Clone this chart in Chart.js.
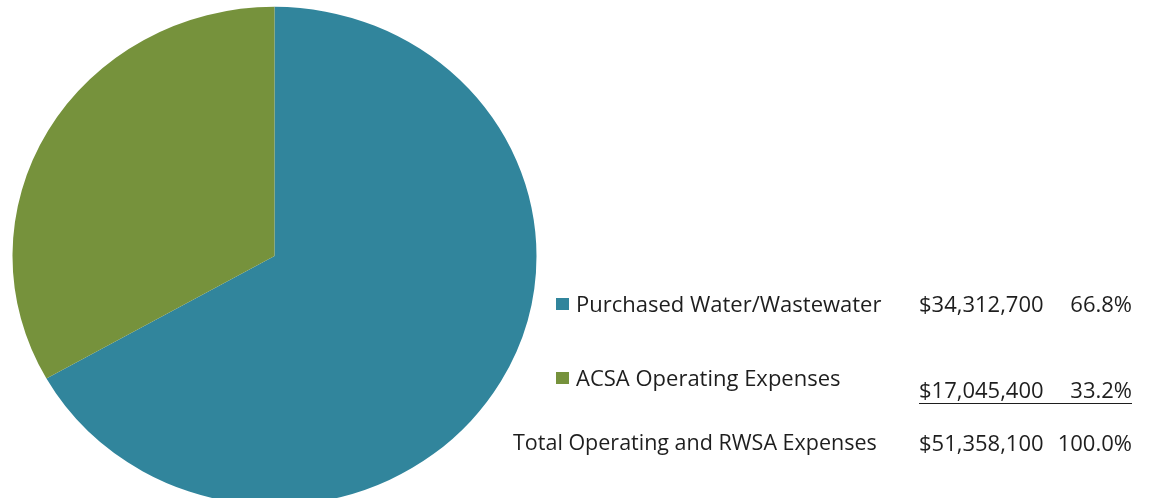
<!DOCTYPE html>
<html>
<head>
<meta charset="utf-8">
<script src="https://cdn.jsdelivr.net/npm/chart.js@4.4.1/dist/chart.umd.min.js"></script>
<style>
  body { margin: 0; background: #fff; }
  #wrap { position: relative; width: 1149px; height: 498px; overflow: hidden; }
  #pieChart { position: absolute; left: 0; top: 0; }
  .row { position: absolute; font-family: 'Open Sans', sans-serif; font-size: 22px; line-height: 22px; color: #1e1e1e; white-space: pre; }
  .box { position: absolute; width: 13px; height: 12px; }
  .amounts { position: absolute; left: 919px; width: 213px; display: flex; justify-content: space-between; }
  .amounts.ruled { border-bottom: 1.6px solid #1e1e1e; padding-bottom: 3px; }
</style>
</head>
<body>
<div id="wrap">
  <canvas id="pieChart" width="1149" height="498"></canvas>
  <div id="legend"></div>
</div>
<script>
const categories = ['Purchased Water/Wastewater', 'ACSA Operating Expenses'];
const amounts = [34312700, 17045400];
const totalLabel = 'Total Operating and RWSA Expenses';
const colors = ['#31859c', '#76923c'];

const total = amounts.reduce((a, b) => a + b, 0);
const money = v => '$' + v.toLocaleString('en-US');
const pct = v => (v / total * 100).toFixed(1) + '%';

// flatten the pie a little vertically
const squash = {
  id: 'squash',
  beforeDatasetsDraw(chart) {
    const arc = chart.getDatasetMeta(0).data[0];
    const ctx = chart.ctx;
    ctx.save();
    ctx.translate(arc.x, arc.y);
    ctx.scale(1, 0.951);
    ctx.translate(-arc.x, -arc.y);
  },
  afterDatasetsDraw(chart) {
    chart.ctx.restore();
  }
};

const ctx = document.getElementById('pieChart').getContext('2d');
const chart = new Chart(ctx, {
  type: 'pie',
  data: {
    labels: categories,
    datasets: [{
      data: amounts,
      backgroundColor: colors,
      borderWidth: 0,
      radius: 262
    }]
  },
  options: {
    responsive: false,
    animation: false,
    events: [],
    layout: { padding: { left: 12, right: 612, top: 14, bottom: 0 } },
    plugins: {
      legend: { display: false },
      tooltip: { enabled: false }
    }
  },
  plugins: [squash]
});

// legend table on the right: label, amount, share
const legend = document.getElementById('legend');
const labelTops = [291.5, 365.5];
const amountTops = [291.5, 377.5];

function addRow(text, left, top) {
  const d = document.createElement('div');
  d.className = 'row';
  d.style.left = left + 'px';
  d.style.top = top + 'px';
  d.textContent = text;
  legend.appendChild(d);
  return d;
}

function addAmounts(value, share, top, ruled) {
  const d = document.createElement('div');
  d.className = 'row amounts' + (ruled ? ' ruled' : '');
  d.style.top = top + 'px';
  const a = document.createElement('span');
  a.textContent = money(value);
  const b = document.createElement('span');
  b.textContent = share;
  d.appendChild(a);
  d.appendChild(b);
  legend.appendChild(d);
}

categories.forEach((name, i) => {
  const box = document.createElement('div');
  box.className = 'box';
  box.style.left = '556px';
  box.style.top = (labelTops[i] + 6.5) + 'px';
  box.style.background = colors[i];
  legend.appendChild(box);
  addRow(name, 576, labelTops[i]);
  addAmounts(amounts[i], pct(amounts[i]), amountTops[i], i === categories.length - 1);
});

// total line sits a touch tighter to keep it in the label column
addRow(totalLabel, 513, 430.5).style.fontSize = '21.5px';
addAmounts(total, pct(total), 430.5, false);
</script>
</body>
</html>
